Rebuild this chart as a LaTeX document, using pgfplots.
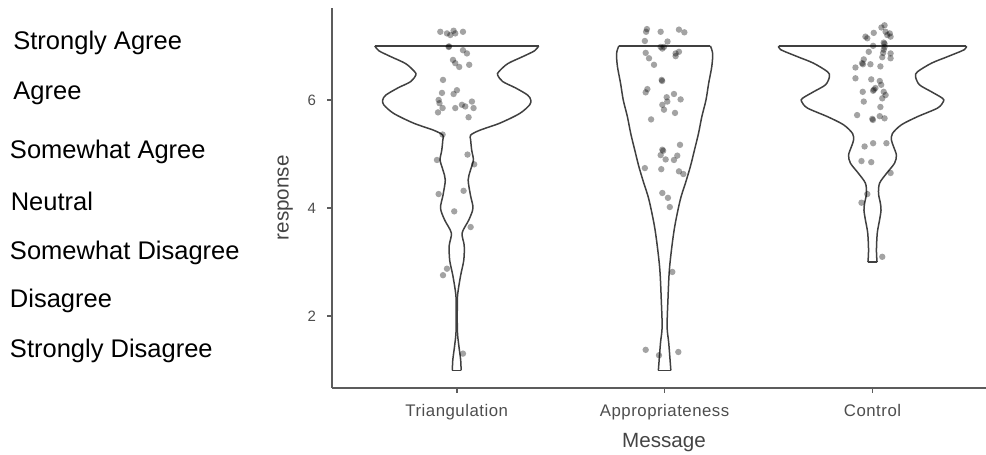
\documentclass[border=0pt]{standalone}
\usepackage{pgfplots}
\pgfplotsset{compat=1.18}
\usepackage{pgfplotstable}
\usepackage{fontspec}
\setmainfont{Liberation Sans}
\definecolor{axisgray}{HTML}{5C5C5C}
\definecolor{ticktext}{HTML}{4D4D4D}
\definecolor{titletext}{HTML}{444444}
\definecolor{violinline}{HTML}{404040}

% violin outlines: response value v, half-width hw (in category units)
\pgfplotstableread{
v hw
7.00 0.394
6.91 0.375
6.80 0.317
6.67 0.245
6.52 0.202
6.46 0.197
6.34 0.221
6.22 0.284
6.09 0.341
6.00 0.356
5.91 0.351
5.75 0.303
5.57 0.207
5.44 0.111
5.35 0.067
5.26 0.067
5.07 0.072
4.89 0.080
4.70 0.066
4.52 0.055
4.24 0.066
4.00 0.078
3.78 0.058
3.54 0.026
3.31 0.036
3.04 0.034
2.76 0.019
2.48 0.007
2.30 0.003
1.74 0.003
1.46 0.010
1.19 0.019
1.00 0.021
}\violinT

\pgfplotstableread{
v hw
7.00 0.220
6.86 0.231
6.62 0.227
6.31 0.212
6.00 0.199
5.69 0.179
5.38 0.163
5.08 0.144
4.77 0.124
4.46 0.100
4.15 0.075
3.60 0.046
2.91 0.024
2.30 0.016
1.80 0.012
1.50 0.020
1.00 0.030
}\violinA

\pgfplotstableread{
v hw
7.00 0.452
6.93 0.442
6.80 0.361
6.68 0.284
6.52 0.216
6.43 0.207
6.28 0.226
6.15 0.284
6.03 0.337
5.97 0.341
5.85 0.313
5.69 0.216
5.54 0.139
5.38 0.096
5.26 0.091
5.14 0.101
4.98 0.115
4.83 0.106
4.64 0.067
4.46 0.034
4.27 0.029
4.09 0.038
3.96 0.041
3.78 0.034
3.54 0.023
3.22 0.019
3.00 0.022
}\violinC

% jittered responses
\pgfplotstableread{
x y
0.921 7.26
0.953 7.23
0.985 7.28
0.993 7.23
1.030 7.26
0.969 7.20
0.961 6.98
0.963 6.99
1.030 6.92
1.049 6.86
0.982 6.74
0.993 6.68
1.012 6.61
1.060 6.65
0.934 6.37
0.929 6.13
0.985 6.11
1.001 6.18
0.913 6.00
0.917 5.94
0.932 5.85
0.910 5.77
0.993 5.85
1.025 5.91
1.041 5.88
1.073 5.97
1.081 5.85
1.057 5.68
0.932 5.36
0.905 4.89
1.052 4.99
1.084 4.81
0.913 4.26
1.033 4.32
0.988 3.94
1.067 3.65
0.953 2.88
0.934 2.76
1.030 1.31
}\ptsT

\pgfplotstableread{
x y
1.915 7.31
1.911 7.26
1.981 7.26
2.069 7.30
2.095 7.25
1.905 7.09
2.014 7.08
1.981 6.98
1.989 6.95
1.997 6.98
2.053 6.86
2.069 6.89
2.053 6.81
1.909 6.87
1.925 6.77
1.949 6.65
1.986 6.37
1.988 6.35
1.917 6.20
1.909 6.14
2.045 6.11
2.010 6.05
2.077 6.01
2.013 5.97
1.989 5.91
1.997 5.82
2.050 5.76
1.935 5.64
1.989 5.08
1.993 5.06
1.981 4.98
2.005 4.90
2.074 5.17
2.061 4.97
2.045 4.89
1.905 4.74
1.984 4.72
2.069 4.68
2.090 4.63
1.989 4.28
2.016 4.19
2.025 4.02
2.037 2.82
1.909 1.38
1.973 1.28
2.066 1.34
}\ptsA

\pgfplotstableread{
x y
3.043 7.34
3.058 7.38
3.006 7.24
2.966 7.17
2.975 7.14
3.063 7.26
3.071 7.20
3.087 7.17
3.083 7.23
3.054 7.06
3.058 7.04
3.003 7.00
3.058 6.98
2.982 6.89
3.054 6.93
3.051 6.87
3.087 6.86
3.087 6.77
2.958 6.75
2.950 6.68
2.954 6.66
2.990 6.66
3.047 6.79
2.918 6.60
3.038 6.62
2.918 6.40
2.994 6.38
3.035 6.35
3.042 6.28
3.014 6.22
3.007 6.19
3.003 6.17
3.054 6.15
2.953 6.15
3.063 6.09
3.047 6.03
2.958 5.97
3.038 5.87
2.926 5.72
2.999 5.65
3.002 5.63
3.035 5.70
3.058 5.66
2.962 5.14
3.003 5.20
3.067 5.20
2.947 4.87
2.994 4.85
3.087 4.65
2.975 4.26
2.947 4.10
3.047 3.10
}\ptsC

\begin{document}
\begin{tikzpicture}[x=1pt,y=1pt]
\useasboundingbox (0,0) rectangle (493,227.5);
\begin{axis}[
  at={(166pt,33.65pt)}, anchor=south west,
  scale only axis, width=327pt, height=189.85pt,
  xmin=0.4, xmax=3.546, ymin=0.68, ymax=7.70,
  axis x line*=bottom, axis y line*=left,
  axis line style={axisgray, line width=1pt},
  xtick={1,2,3}, xticklabels={Triangulation,Appropriateness,Control},
  ytick={2,4,6},
  minor tick num=0,
  tick align=outside, major tick length=2.5pt,
  tick style={axisgray, line width=0.8pt},
  yticklabel style={font=\fontsize{7.5}{9}\selectfont, text=ticktext, xshift=-2pt},
  xticklabel style={font=\fontsize{8.4}{10}\selectfont\addfontfeatures{LetterSpace=3}, text=ticktext, yshift=-2.2pt},
  /pgf/number format/assume math mode=true,
  xlabel={Message}, ylabel={response},
  every axis x label/.style={at={(axis description cs:0.5076,-0.1588)}, anchor=base,
    font=\fontsize{10.3}{12}\selectfont, text=titletext},
  every axis y label/.style={at={(axis description cs:-0.0714,0.5)}, anchor=center, rotate=90,
    font=\fontsize{10.3}{12}\selectfont, text=titletext},
  violin/.style={violinline, line width=0.75pt, no markers},
  jit/.style={only marks, draw=none, mark=*, mark size=1.6pt,
    mark options={draw opacity=0, draw=none, fill=black, fill opacity=0.36}},
]
% Triangulation
\addplot[violin, smooth, tension=0.5] table[x expr=1+\thisrow{hw}, y=v] {\violinT};
\addplot[violin, smooth, tension=0.5] table[x expr=1-\thisrow{hw}, y=v] {\violinT};
\addplot[violin] coordinates {(0.606,7) (1.394,7)};
\addplot[violin] coordinates {(0.979,1) (1.021,1)};
% Appropriateness
\addplot[violin, smooth, tension=0.5] table[x expr=2+\thisrow{hw}, y=v] {\violinA};
\addplot[violin, smooth, tension=0.5] table[x expr=2-\thisrow{hw}, y=v] {\violinA};
\addplot[violin] coordinates {(1.780,7) (2.220,7)};
\addplot[violin] coordinates {(1.970,1) (2.030,1)};
% Control
\addplot[violin, smooth, tension=0.5] table[x expr=3+\thisrow{hw}, y=v] {\violinC};
\addplot[violin, smooth, tension=0.5] table[x expr=3-\thisrow{hw}, y=v] {\violinC};
\addplot[violin] coordinates {(2.548,7) (3.452,7)};
\addplot[violin] coordinates {(2.978,3) (3.022,3)};
% points
\addplot[jit] table[x=x, y=y] {\ptsT};
\addplot[jit] table[x=x, y=y] {\ptsA};
\addplot[jit] table[x=x, y=y] {\ptsC};
\end{axis}
\begin{scope}[every node/.style={anchor=base west, inner sep=0pt, font=\fontsize{12.75}{15}\selectfont}]
\node at (6.5,202.5) {Strongly Agree};
\node at (6.5,177.5) {Agree};
\node at (4.8,148) {Somewhat Agree};
\node at (5.2,122) {Neutral};
\node at (4.8,97.5) {Somewhat Disagree};
\node at (4.8,73.5) {Disagree};
\node at (4.8,48.5) {Strongly Disagree};
\end{scope}
\end{tikzpicture}
\end{document}
